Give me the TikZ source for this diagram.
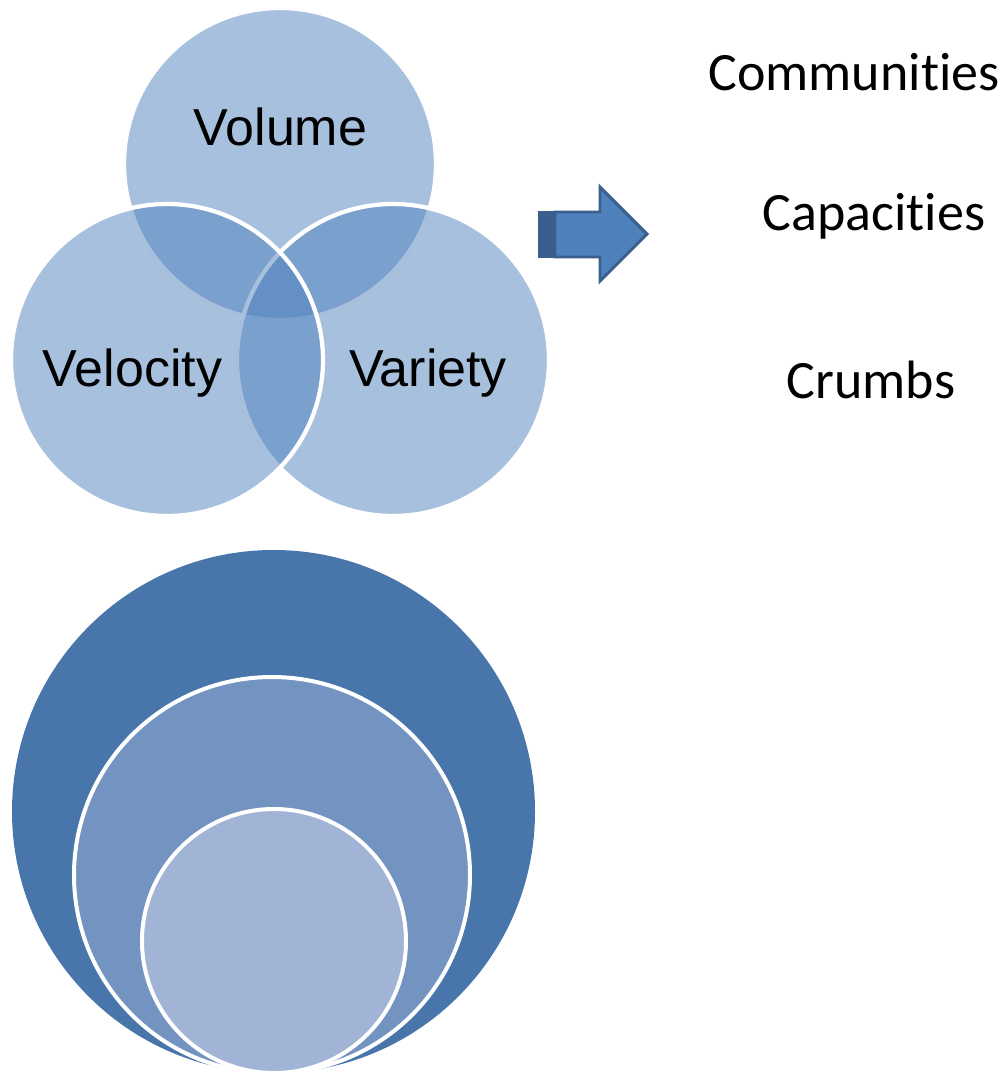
\documentclass[tikz,border=0pt]{standalone}
\usepackage{fontspec}
\setmainfont{Carlito}[RawFeature={-liga;-clig;-calt;-dlig}]
\newfontfamily\arialfont{Liberation Sans}
\definecolor{vennblue}{HTML}{4F81BD}
\definecolor{arrowdark}{HTML}{3A5F8F}
\definecolor{ringouter}{HTML}{4876AB}
\definecolor{ringmid}{HTML}{7393C1}
\definecolor{ringinner}{HTML}{A2B4D5}
\tikzset{
	vennset/.style={fill=vennblue, fill opacity=0.5, draw=white, draw opacity=1, line width=3.2pt},
	vennlabel/.style={font=\arialfont\fontsize{39}{45}\selectfont, anchor=base, inner sep=0pt},
	sidelabel/.style={font=\fontsize{40.5}{46}\selectfont, anchor=base, inner sep=0pt},
	ring/.style={draw=white, line width=3pt}
}
\begin{document}
\begin{tikzpicture}[x=0.75pt,y=-0.75pt]
		\useasboundingbox (0,0) rectangle (1001,1074);
		% Ba vong tron Venn
		\draw[vennset] (280,164) circle (156);
		\draw[vennset] (393,360) circle (156);
		\draw[vennset] (167,360) circle (156);
		% Nhan cua cac vong tron
		\node[vennlabel] (volume) at (280.5,145) {Volume};
		\node[vennlabel] (velocity) at (132.5,386) {Velocity};
		\node[vennlabel] (variety) at (428,386) {Variety};
		% Mui ten
		\fill[arrowdark] (538,211) rectangle (556,258);
		\draw[fill=vennblue, draw=arrowdark, line width=2.2pt, line join=miter]
			(555,212) -- (600,212) -- (600,187) -- (647,234) -- (600,281) -- (600,257) -- (555,257) -- cycle;
		% Cac chu ben phai
		\node[sidelabel] (communities) at (854,90) {Communit\kern0pt ies};
		\node[sidelabel] (capacities) at (874,230) {Capacit\kern0pt ies};
		\node[sidelabel] (crumbs) at (871,398) {Crumbs};
		% Ba vong tron long nhau
		\fill[ringouter] (273.5,811.5) circle (261.5);
		\draw[ring, fill=ringmid] (272,875) circle (198);
		\draw[ring, fill=ringinner] (274,941) circle (132);
	\end{tikzpicture}
\end{document}
